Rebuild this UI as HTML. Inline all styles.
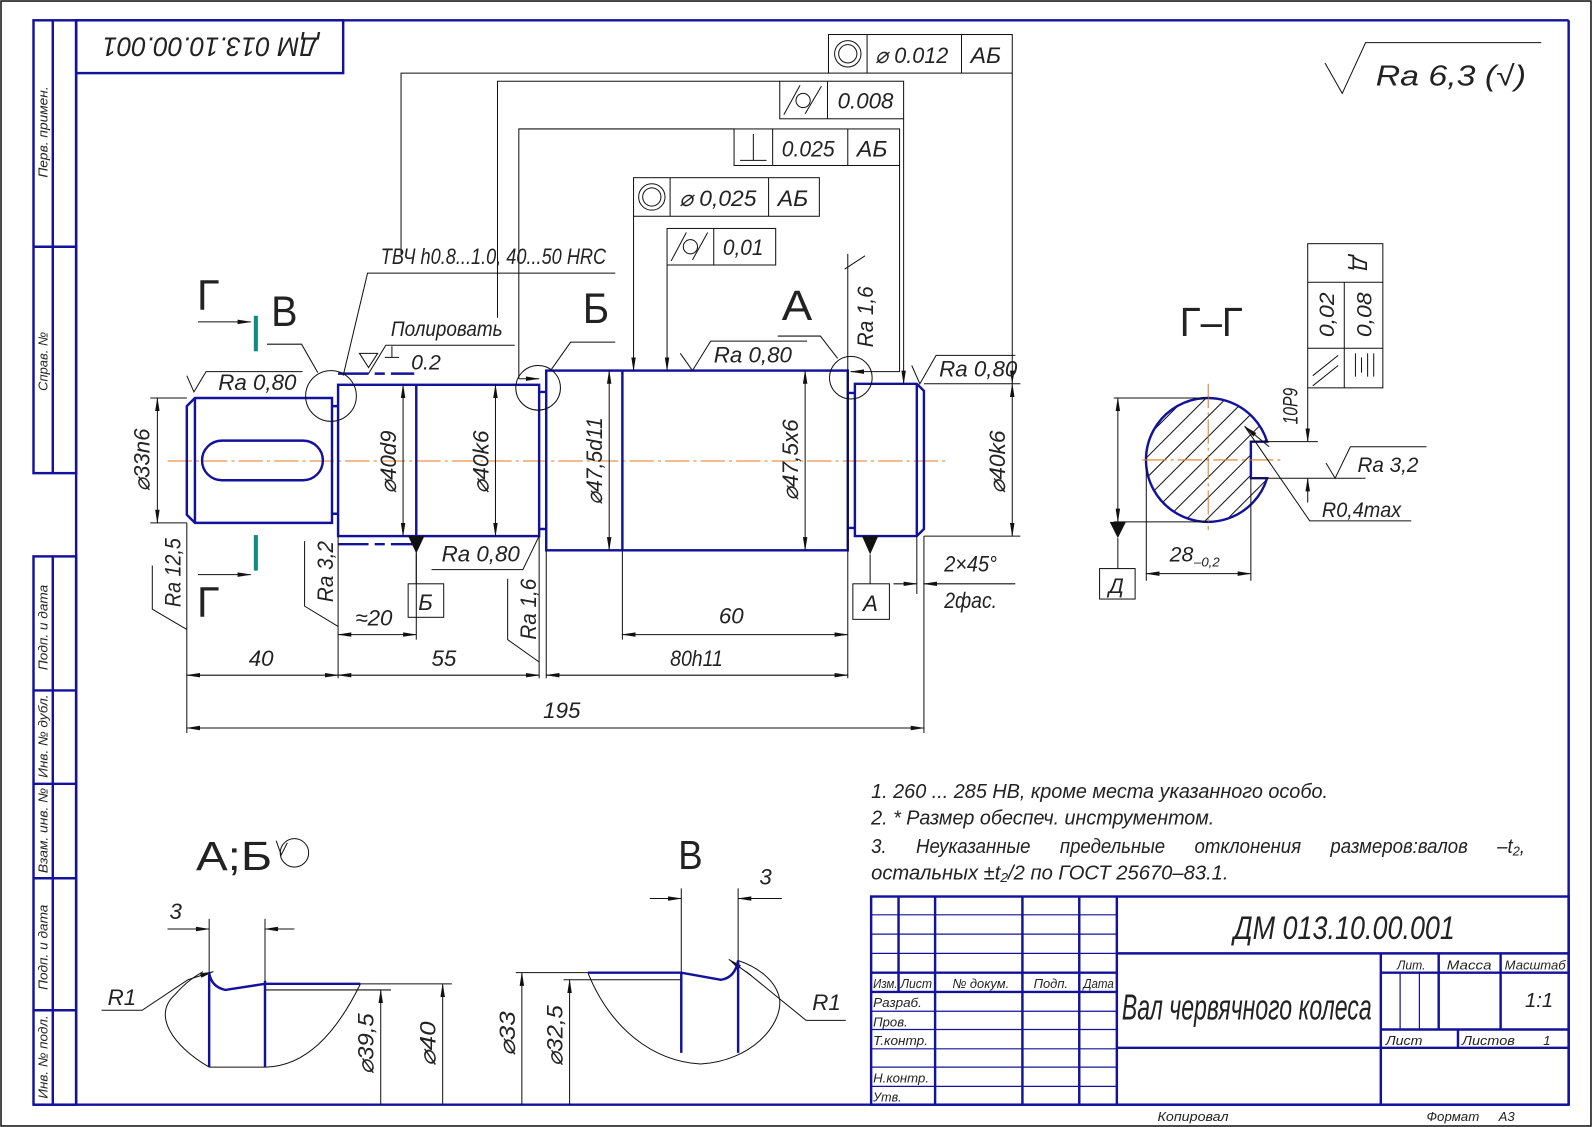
<!DOCTYPE html>
<html><head><meta charset="utf-8"><style>
html,body{margin:0;padding:0;background:#fff}
svg{display:block}
text{font-family:"Liberation Sans",sans-serif;font-style:italic;fill:#222}
.b{stroke:#12129a;stroke-width:2.4;fill:none}
.t{stroke:#111;stroke-width:1;fill:none}
.c{stroke:#e07a20;stroke-width:1;stroke-dasharray:24 4 3 4;fill:none}
</style></head><body>
<svg width="1592" height="1127" viewBox="0 0 1568 1110" preserveAspectRatio="none" xmlns="http://www.w3.org/2000/svg">
<defs>
<marker id="a" markerWidth="14" markerHeight="6" refX="13" refY="3" orient="auto-start-reverse" markerUnits="userSpaceOnUse"><path d="M0,0.8 L14,3 L0,5.2 Z" fill="#111"/></marker>
<clipPath id="cp"><path d="M1248,435 L1232,435 L1232,471 L1248,471 A61,61 0 1 1 1248,435 Z"/></clipPath>
</defs>
<rect x="1" y="1" width="1566" height="1108" fill="none" stroke="#111" stroke-width="1.5"/>
<g class="b">
<line x1="75" y1="20" x2="1545" y2="20"/><line x1="1545" y1="20" x2="1545" y2="1088"/>
<line x1="33" y1="1088" x2="1545" y2="1088"/><line x1="75" y1="20" x2="75" y2="1088"/>
<rect x="33" y="20" width="42" height="446"/><line x1="52" y1="20" x2="52" y2="466"/><line x1="33" y1="243" x2="75" y2="243"/>
<rect x="33" y="548" width="42" height="540"/><line x1="52" y1="548" x2="52" y2="1088"/>
<line x1="33" y1="680" x2="75" y2="680"/><line x1="33" y1="772" x2="75" y2="772"/><line x1="33" y1="865" x2="75" y2="865"/><line x1="33" y1="995" x2="75" y2="995"/>
<rect x="75" y="20" width="263" height="52"/>
</g>
<g font-size="13">
<text transform="translate(47,175) rotate(-90)" textLength="90" lengthAdjust="spacingAndGlyphs">Перв. примен.</text>
<text transform="translate(47,385) rotate(-90)" textLength="58" lengthAdjust="spacingAndGlyphs">Справ. №</text>
<text transform="translate(47,660) rotate(-90)" textLength="84" lengthAdjust="spacingAndGlyphs">Подп. и дата</text>
<text transform="translate(47,766) rotate(-90)" textLength="82" lengthAdjust="spacingAndGlyphs">Инв. № дубл.</text>
<text transform="translate(47,860) rotate(-90)" textLength="84" lengthAdjust="spacingAndGlyphs">Взам. инв. №</text>
<text transform="translate(47,975) rotate(-90)" textLength="84" lengthAdjust="spacingAndGlyphs">Подп. и дата</text>
<text transform="translate(47,1082) rotate(-90)" textLength="82" lengthAdjust="spacingAndGlyphs">Инв. № подл.</text>
</g>
<text transform="translate(207,46) rotate(180)" font-size="26" text-anchor="middle" dy="9" textLength="212" lengthAdjust="spacingAndGlyphs">ДМ 013.10.00.001</text>
<polyline class="t" points="1305,62 1322,92 1345,42 1518,42" stroke-width="1.3"/>
<text x="1355" y="84" font-size="28" textLength="148" lengthAdjust="spacingAndGlyphs">Ra 6,3 (√)</text>

<line class="c" x1="165" y1="454" x2="932" y2="454"/>
<g class="b">
<path d="M184,400 L192,392 L327,392 L327,515 L192,515 L184,507 Z"/><line x1="192" y1="392" x2="192" y2="515"/>
<rect x="199" y="434" width="119" height="39" rx="19.5"/>
<path d="M327,400 L333,400 M327,506 L333,506"/>
<rect x="333" y="379" width="198" height="149"/>
<line x1="410" y1="379" x2="410" y2="528"/>
<path d="M531,386 L538,386 M531,521 L538,521"/>
<rect x="538" y="365" width="297" height="177"/>
<line x1="613" y1="365" x2="613" y2="542"/>
<path d="M835,387 L842,387 M835,520 L842,520"/>
<path d="M842,378 L903,378 L910,385 L910,521 L903,528 L842,528 Z"/><line x1="903" y1="378" x2="903" y2="528"/>
<path d="M333,368 L408,368" stroke-dasharray="30 6 10 6"/>
<path d="M333,536 L410,536" stroke-dasharray="30 6 10 6"/>
</g>
<g class="t">
<circle cx="326" cy="390" r="25"/><polyline points="263,339 297,339 313,367"/>
<circle cx="530" cy="382" r="22"/><polyline points="543,364 562,337 606,337"/>
<circle cx="838" cy="372" r="21"/><polyline points="766,331 808,331 825,353"/>
</g>
<g font-size="42">
<text x="267" y="321" style="font-style:normal" textLength="26" lengthAdjust="spacingAndGlyphs">В</text>
<text x="574" y="318" style="font-style:normal" textLength="26" lengthAdjust="spacingAndGlyphs">Б</text>
<text x="770" y="315" style="font-style:normal" textLength="30" lengthAdjust="spacingAndGlyphs">А</text>
<text x="194" y="305" style="font-style:normal" textLength="22" lengthAdjust="spacingAndGlyphs">Г</text>
<text x="194" y="607" style="font-style:normal" textLength="22" lengthAdjust="spacingAndGlyphs">Г</text>
</g>
<g class="t">
<line x1="195" y1="317" x2="247" y2="317" marker-end="url(#a)"/>
<line x1="195" y1="566" x2="247" y2="566" marker-end="url(#a)"/>
</g>
<line x1="252" y1="311" x2="252" y2="346" stroke="#138a80" stroke-width="4"/>
<line x1="252" y1="527" x2="252" y2="562" stroke="#138a80" stroke-width="4"/>

<g class="t" stroke-width="1.2">
<rect x="816" y="34" width="181" height="38"/><line x1="854" y1="34" x2="854" y2="72"/><line x1="947" y1="34" x2="947" y2="72"/>
<circle cx="835" cy="53" r="13"/><circle cx="835" cy="53" r="9"/>
<rect x="768" y="80" width="122" height="37"/><line x1="815" y1="80" x2="815" y2="117"/>
<rect x="723" y="127" width="163" height="36"/><line x1="761" y1="127" x2="761" y2="163"/><line x1="835" y1="127" x2="835" y2="163"/>
<path d="M729,158 L755,158 M742,132 L742,158"/>
<rect x="624" y="175" width="183" height="38"/><line x1="660" y1="175" x2="660" y2="213"/><line x1="757" y1="175" x2="757" y2="213"/>
<circle cx="642" cy="194" r="13"/><circle cx="642" cy="194" r="9"/>
<rect x="657" y="225" width="107" height="36"/><line x1="703" y1="225" x2="703" y2="261"/>
<path d="M772,113 L788,84 M793,112 L809,85"/><circle cx="791" cy="99" r="7"/>
<path d="M661,257 L676,229 M682,256 L697,229"/><circle cx="680" cy="243" r="7"/>
<polyline points="816,72 395,72 395,250"/>
<polyline points="768,80 490,80 490,313"/>
<polyline points="723,127 511,127 511,373"/>
<line x1="511" y1="373" x2="531" y2="373" marker-end="url(#a)"/>
<line x1="624" y1="213" x2="624" y2="365" marker-end="url(#a)"/>
<line x1="657" y1="261" x2="657" y2="365" marker-end="url(#a)"/>
<polyline points="886,163 886,366 838,366" />
<line x1="850" y1="366" x2="838" y2="366" marker-end="url(#a)"/>
<line x1="890" y1="117" x2="890" y2="378" marker-end="url(#a)"/>
<line x1="997" y1="72" x2="997" y2="378" marker-end="url(#a)"/>
</g>
<g font-size="22">
<text x="862" y="62" textLength="72" lengthAdjust="spacingAndGlyphs">⌀ 0.012</text>
<text x="956" y="62" textLength="30" lengthAdjust="spacingAndGlyphs">АБ</text>
<text x="825" y="107" textLength="55" lengthAdjust="spacingAndGlyphs">0.008</text>
<text x="770" y="154" textLength="52" lengthAdjust="spacingAndGlyphs">0.025</text>
<text x="844" y="154" textLength="30" lengthAdjust="spacingAndGlyphs">АБ</text>
<text x="669" y="203" textLength="76" lengthAdjust="spacingAndGlyphs">⌀ 0,025</text>
<text x="766" y="203" textLength="30" lengthAdjust="spacingAndGlyphs">АБ</text>
<text x="712" y="251" textLength="40" lengthAdjust="spacingAndGlyphs">0,01</text>
</g>

<g class="t">
<polyline points="338,370 362,269 606,269"/>
<polyline points="363,368 380,340 507,340"/>
<path d="M354,348 L372,348 L363,362 Z"/>
<path d="M379,352 L393,352 M386,341 L386,352"/>
</g>
<text x="375" y="260" font-size="22" textLength="222" lengthAdjust="spacingAndGlyphs">ТВЧ h0.8...1.0, 40...50 HRC</text>
<text x="385" y="331" font-size="21" textLength="110" lengthAdjust="spacingAndGlyphs">Полировать</text>
<text x="405" y="364" font-size="21">0.2</text>

<g class="t">
<polyline points="184,370 191,386 203,366 298,366"/>
<polyline points="670,348 682,365 700,336 795,336"/>
<polyline points="898,360 906,378 922,350 1000,350"/>
<polyline points="531,528 515,561 425,561"/>
<polyline points="832,265 852,252 M832,265 862,283 862,355"/>
<line x1="835" y1="250" x2="835" y2="668"/>
<polyline points="150,557 150,600 184,620 M170,628 184,620"/>
<polyline points="300,533 300,597 333,617 M318,626 333,617"/>
<polyline points="500,570 500,630 531,652 M516,660 531,652"/>
</g>
<g font-size="22">
<text x="215" y="384" textLength="77" lengthAdjust="spacingAndGlyphs">Ra 0,80</text>
<text x="703" y="357" textLength="77" lengthAdjust="spacingAndGlyphs">Ra 0,80</text>
<text x="925" y="371" textLength="77" lengthAdjust="spacingAndGlyphs">Ra 0,80</text>
<text x="435" y="553" textLength="77" lengthAdjust="spacingAndGlyphs">Ra 0,80</text>
<text transform="translate(860,342) rotate(-90)" textLength="60" lengthAdjust="spacingAndGlyphs">Ra 1,6</text>
<text transform="translate(178,598) rotate(-90)" textLength="68" lengthAdjust="spacingAndGlyphs">Ra 12,5</text>
<text transform="translate(328,593) rotate(-90)" textLength="60" lengthAdjust="spacingAndGlyphs">Ra 3,2</text>
<text transform="translate(528,630) rotate(-90)" textLength="60" lengthAdjust="spacingAndGlyphs">Ra 1,6</text>
</g>

<g class="t">
<line x1="148" y1="392" x2="184" y2="392"/><line x1="148" y1="515" x2="184" y2="515"/>
<line x1="155" y1="392" x2="155" y2="515" marker-start="url(#a)" marker-end="url(#a)"/>
<line x1="397" y1="379" x2="397" y2="528" marker-start="url(#a)" marker-end="url(#a)"/>
<line x1="488" y1="379" x2="488" y2="528" marker-start="url(#a)" marker-end="url(#a)"/>
<line x1="600" y1="365" x2="600" y2="542" marker-start="url(#a)" marker-end="url(#a)"/>
<line x1="793" y1="365" x2="793" y2="542" marker-start="url(#a)" marker-end="url(#a)"/>
<line x1="910" y1="378" x2="1005" y2="378"/><line x1="910" y1="528" x2="1005" y2="528"/>
<line x1="997" y1="378" x2="997" y2="528" marker-start="url(#a)" marker-end="url(#a)"/>
</g>
<g font-size="22">
<text transform="translate(147,484) rotate(-90)" textLength="62" lengthAdjust="spacingAndGlyphs">⌀33n6</text>
<text transform="translate(390,486) rotate(-90)" textLength="62" lengthAdjust="spacingAndGlyphs">⌀40d9</text>
<text transform="translate(481,486) rotate(-90)" textLength="62" lengthAdjust="spacingAndGlyphs">⌀40k6</text>
<text transform="translate(593,497) rotate(-90)" textLength="86" lengthAdjust="spacingAndGlyphs">⌀47,5d11</text>
<text transform="translate(786,493) rotate(-90)" textLength="80" lengthAdjust="spacingAndGlyphs">⌀47,5x6</text>
<text transform="translate(990,486) rotate(-90)" textLength="62" lengthAdjust="spacingAndGlyphs">⌀40k6</text>
</g>

<path d="M402,528 L418,528 L410,545 Z" fill="#111"/>
<path d="M849,528 L865,528 L857,546 Z" fill="#111"/>
<g class="t">
<line x1="410" y1="545" x2="410" y2="575"/><rect x="402" y="575" width="35" height="33"/>
<line x1="857" y1="546" x2="857" y2="575"/><rect x="840" y="575" width="36" height="35"/>
</g>
<text x="412" y="601" font-size="22">Б</text>
<text x="850" y="602" font-size="22">А</text>

<g class="t">
<line x1="184" y1="515" x2="184" y2="722"/><line x1="333" y1="528" x2="333" y2="668"/>
<line x1="410" y1="528" x2="410" y2="630"/><line x1="531" y1="528" x2="531" y2="668"/>
<line x1="538" y1="542" x2="538" y2="668"/><line x1="613" y1="542" x2="613" y2="630"/>
<line x1="910" y1="528" x2="910" y2="722"/><line x1="903" y1="528" x2="903" y2="585"/>
<line x1="333" y1="625" x2="410" y2="625" marker-start="url(#a)" marker-end="url(#a)"/>
<line x1="613" y1="625" x2="835" y2="625" marker-start="url(#a)" marker-end="url(#a)"/>
<line x1="184" y1="665" x2="333" y2="665" marker-start="url(#a)" marker-end="url(#a)"/>
<line x1="333" y1="665" x2="531" y2="665" marker-start="url(#a)" marker-end="url(#a)"/>
<line x1="538" y1="665" x2="835" y2="665" marker-start="url(#a)" marker-end="url(#a)"/>
<line x1="184" y1="717" x2="910" y2="717" marker-start="url(#a)" marker-end="url(#a)"/>
<line x1="880" y1="575" x2="903" y2="575" marker-end="url(#a)"/>
<line x1="1000" y1="575" x2="910" y2="575" marker-end="url(#a)"/>
</g>
<g font-size="22">
<text x="350" y="616">≈20</text>
<text x="708" y="614">60</text>
<text x="245" y="656">40</text>
<text x="425" y="656">55</text>
<text x="660" y="656" textLength="52" lengthAdjust="spacingAndGlyphs">80h11</text>
<text x="535" y="707">195</text>
<text x="930" y="563" textLength="52" lengthAdjust="spacingAndGlyphs">2×45°</text>
<text x="930" y="599" textLength="52" lengthAdjust="spacingAndGlyphs">2фас.</text>
</g>

<text x="1162" y="331" font-size="40" style="font-style:normal" textLength="62" lengthAdjust="spacingAndGlyphs">Г–Г</text>
<g clip-path="url(#cp)" class="t">
<path d="M1100,520 L1260,360 M1100,540 L1280,360 M1100,560 L1300,360 M1100,500 L1240,360 M1100,480 L1220,360 M1100,460 L1200,360 M1100,440 L1180,360 M1100,420 L1160,360 M1100,580 L1320,360 M1100,600 L1340,360 M1100,620 L1360,360 M1100,640 L1380,360 M1100,400 L1140,360"/>
</g>
<path class="b" d="M1248,435 L1232,435 L1232,471 L1248,471 A61,61 0 1 1 1248,435 Z"/>
<line class="c" x1="1125" y1="453" x2="1265" y2="453" stroke-dasharray="40 4 3 4"/>
<line class="c" x1="1190" y1="378" x2="1190" y2="522" stroke-dasharray="40 4 3 4"/>
<g class="t">
<line x1="1097" y1="392" x2="1190" y2="392"/><line x1="1097" y1="514" x2="1190" y2="514"/>
<line x1="1101" y1="392" x2="1101" y2="514" marker-start="url(#a)" marker-end="url(#a)"/>
<line x1="1101" y1="530" x2="1101" y2="560"/><rect x="1083" y="560" width="35" height="30"/>
<line x1="1129" y1="460" x2="1129" y2="572"/><line x1="1232" y1="471" x2="1232" y2="572"/>
<line x1="1129" y1="565" x2="1232" y2="565" marker-start="url(#a)" marker-end="url(#a)"/>
<line x1="1232" y1="435" x2="1298" y2="435"/><line x1="1232" y1="471" x2="1345" y2="471"/>
<line x1="1288" y1="382" x2="1288" y2="435" marker-end="url(#a)"/>
<line x1="1288" y1="495" x2="1288" y2="471" marker-end="url(#a)"/>
<polyline points="1306,456 1315,471 1330,440 1405,440"/>
<polyline points="1390,513 1290,513 1226,420"/>
<line x1="1250" y1="440" x2="1226" y2="420" marker-end="url(#a)"/>
<rect x="1288" y="240" width="74" height="142"/><line x1="1288" y1="278" x2="1362" y2="278"/><line x1="1288" y1="343" x2="1362" y2="343"/><line x1="1324" y1="278" x2="1324" y2="382"/>
<path d="M1293,370 L1318,350 M1293,380 L1318,360"/>
<path d="M1335,362 L1350,362 M1331,350 L1354,350 M1331,356 L1354,356 M1331,368 L1354,368" transform="rotate(90 1343 360)"/>
</g>
<path d="M1093,514 L1109,514 L1101,530 Z" fill="#111"/>
<g font-size="21">
<text x="1092" y="584">Д</text>
<text x="1152" y="553">28</text><text x="1176" y="558" font-size="13">–0,2</text>
<text transform="translate(1278,418) rotate(-90)" textLength="36" lengthAdjust="spacingAndGlyphs">10P9</text>
<text x="1337" y="465" textLength="60" lengthAdjust="spacingAndGlyphs">Ra 3,2</text>
<text x="1302" y="509" textLength="78" lengthAdjust="spacingAndGlyphs">R0,4max</text>
<text transform="translate(1332,252) rotate(90)">Д</text>
<text transform="translate(1314,332) rotate(-90)" textLength="44" lengthAdjust="spacingAndGlyphs">0,02</text>
<text transform="translate(1351,332) rotate(-90)" textLength="44" lengthAdjust="spacingAndGlyphs">0,08</text>
</g>

<g font-size="20">
<text x="858" y="786" textLength="450" lengthAdjust="spacingAndGlyphs">1. 260 ... 285 HB, кроме места указанного особо.</text>
<text x="858" y="812" textLength="338" lengthAdjust="spacingAndGlyphs">2. * Размер обеспеч. инструментом.</text>
<text x="858" y="840" textLength="644" lengthAdjust="spacingAndGlyphs" word-spacing="26">3. Неуказанные предельные отклонения размеров:валов –t₂,</text>
<text x="858" y="866" textLength="352" lengthAdjust="spacingAndGlyphs">остальных ±t₂/2 по ГОСТ 25670–83.1.</text>
</g>

<text x="193" y="857" font-size="40" style="font-style:normal" textLength="75" lengthAdjust="spacingAndGlyphs">А;Б</text>
<circle cx="290" cy="840" r="14" class="t" stroke-width="2"/><path d="M272,828 L277,842 L283,830" class="t" stroke-width="2"/>
<g class="t">
<path d="M355,969 C330,1020 300,1050 262,1051 L206,1051 C170,1030 150,1000 172,980 C185,965 195,960 200,957"/>
<line x1="206" y1="905" x2="206" y2="958"/><line x1="261" y1="905" x2="261" y2="966"/>
<line x1="165" y1="915" x2="206" y2="915" marker-end="url(#a)"/>
<line x1="290" y1="915" x2="261" y2="915" marker-end="url(#a)"/>
<polyline points="100,995 140,995 185,965"/><line x1="185" y1="965" x2="210" y2="957" marker-end="url(#a)"/>
<line x1="261" y1="975" x2="385" y2="975"/><line x1="355" y1="969" x2="445" y2="969"/>
<line x1="375" y1="1088" x2="375" y2="975" marker-end="url(#a)"/>
<line x1="436" y1="1088" x2="436" y2="969" marker-end="url(#a)"/>
</g>
<path class="b" d="M206,958 L206,1051 M261,966 L261,1051 M206,958 Q208,972 222,975 L261,969 L355,969"/>
<g font-size="22">
<text x="167" y="905">3</text>
<text x="106" y="990">R1</text>
<text transform="translate(368,1058) rotate(-90)" textLength="60" lengthAdjust="spacingAndGlyphs">⌀39,5</text>
<text transform="translate(429,1050) rotate(-90)" textLength="44" lengthAdjust="spacingAndGlyphs">⌀40</text>
</g>

<text x="668" y="856" font-size="40" style="font-style:normal" textLength="24" lengthAdjust="spacingAndGlyphs">В</text>
<g class="t">
<path d="M579,958 C600,1010 640,1045 690,1048 C740,1045 770,1010 768,985 C765,965 745,952 727,946"/>
<line x1="671" y1="875" x2="671" y2="958"/><line x1="727" y1="875" x2="727" y2="946"/>
<line x1="640" y1="885" x2="671" y2="885" marker-end="url(#a)"/>
<line x1="770" y1="885" x2="727" y2="885" marker-end="url(#a)"/>
<polyline points="833,1005 794,1005 735,957"/><line x1="740" y1="961" x2="718" y2="945" marker-end="url(#a)"/>
<line x1="508" y1="958" x2="579" y2="958"/><line x1="555" y1="965" x2="671" y2="965"/>
<line x1="514" y1="1088" x2="514" y2="958" marker-end="url(#a)"/>
<line x1="561" y1="1088" x2="561" y2="965" marker-end="url(#a)"/>
</g>
<path class="b" d="M671,958 L671,1037 M727,946 L727,1037 M579,958 L671,958 L710,965 Q724,963 727,946"/>
<g font-size="22">
<text x="748" y="871">3</text>
<text x="800" y="995">R1</text>
<text transform="translate(507,1040) rotate(-90)" textLength="44" lengthAdjust="spacingAndGlyphs">⌀33</text>
<text transform="translate(554,1050) rotate(-90)" textLength="60" lengthAdjust="spacingAndGlyphs">⌀32,5</text>
</g>

<g class="b">
<rect x="858" y="883" width="687" height="205"/>
<line x1="885" y1="883" x2="885" y2="977"/><line x1="921" y1="883" x2="921" y2="1088"/>
<line x1="1007" y1="883" x2="1007" y2="1088"/><line x1="1063" y1="883" x2="1063" y2="1088"/>
<line x1="1100" y1="883" x2="1100" y2="1088"/>
<line x1="858" y1="958" x2="1100" y2="958"/><line x1="858" y1="977" x2="1100" y2="977"/>
<line x1="1100" y1="939" x2="1545" y2="939"/><line x1="1100" y1="1032" x2="1545" y2="1032"/>
<line x1="1360" y1="939" x2="1360" y2="1088"/>
<line x1="1360" y1="958" x2="1545" y2="958"/><line x1="1360" y1="1014" x2="1545" y2="1014"/>
<line x1="1417" y1="939" x2="1417" y2="1014"/><line x1="1478" y1="939" x2="1478" y2="1014"/>
<line x1="1436" y1="1014" x2="1436" y2="1032"/>
</g>
<g stroke="#12129a" stroke-width="1.2">
<line x1="858" y1="901" x2="1100" y2="901"/><line x1="858" y1="920" x2="1100" y2="920"/><line x1="858" y1="939" x2="1100" y2="939"/>
<line x1="858" y1="996" x2="1100" y2="996"/><line x1="858" y1="1014" x2="1100" y2="1014"/><line x1="858" y1="1033" x2="1100" y2="1033"/>
<line x1="858" y1="1051" x2="1100" y2="1051"/><line x1="858" y1="1070" x2="1100" y2="1070"/>
<line x1="1379" y1="958" x2="1379" y2="1014"/><line x1="1398" y1="958" x2="1398" y2="1014"/>
</g>
<g font-size="13">
<text x="860" y="973" textLength="24" lengthAdjust="spacingAndGlyphs">Изм.</text>
<text x="887" y="973" textLength="31" lengthAdjust="spacingAndGlyphs">Лист</text>
<text x="938" y="973" textLength="56" lengthAdjust="spacingAndGlyphs">№ докум.</text>
<text x="1018" y="973" textLength="34" lengthAdjust="spacingAndGlyphs">Подп.</text>
<text x="1067" y="973" textLength="30" lengthAdjust="spacingAndGlyphs">Дата</text>
<text x="860" y="992" textLength="48" lengthAdjust="spacingAndGlyphs">Разраб.</text>
<text x="860" y="1011" textLength="34" lengthAdjust="spacingAndGlyphs">Пров.</text>
<text x="860" y="1029" textLength="54" lengthAdjust="spacingAndGlyphs">Т.контр.</text>
<text x="860" y="1066" textLength="55" lengthAdjust="spacingAndGlyphs">Н.контр.</text>
<text x="860" y="1085" textLength="28" lengthAdjust="spacingAndGlyphs">Утв.</text>
<text x="1376" y="955" textLength="28" lengthAdjust="spacingAndGlyphs">Лит.</text>
<text x="1425" y="955" textLength="44" lengthAdjust="spacingAndGlyphs">Масса</text>
<text x="1482" y="955" textLength="60" lengthAdjust="spacingAndGlyphs">Масштаб</text>
<text x="1365" y="1029" textLength="36" lengthAdjust="spacingAndGlyphs">Лист</text>
<text x="1440" y="1029" textLength="52" lengthAdjust="spacingAndGlyphs">Листов</text>
<text x="1520" y="1029">1</text>
<text x="1140" y="1104" textLength="70" lengthAdjust="spacingAndGlyphs">Копировал</text>
<text x="1405" y="1104" textLength="52" lengthAdjust="spacingAndGlyphs">Формат</text>
<text x="1476" y="1104">А3</text>
</g>
<text x="1502" y="992" font-size="20">1:1</text>
<text x="1215" y="925" font-size="32" textLength="218" lengthAdjust="spacingAndGlyphs">ДМ 013.10.00.001</text>
<text x="1105" y="1004" font-size="36" textLength="246" lengthAdjust="spacingAndGlyphs">Вал червячного колеса</text>
</svg>
</body></html>
